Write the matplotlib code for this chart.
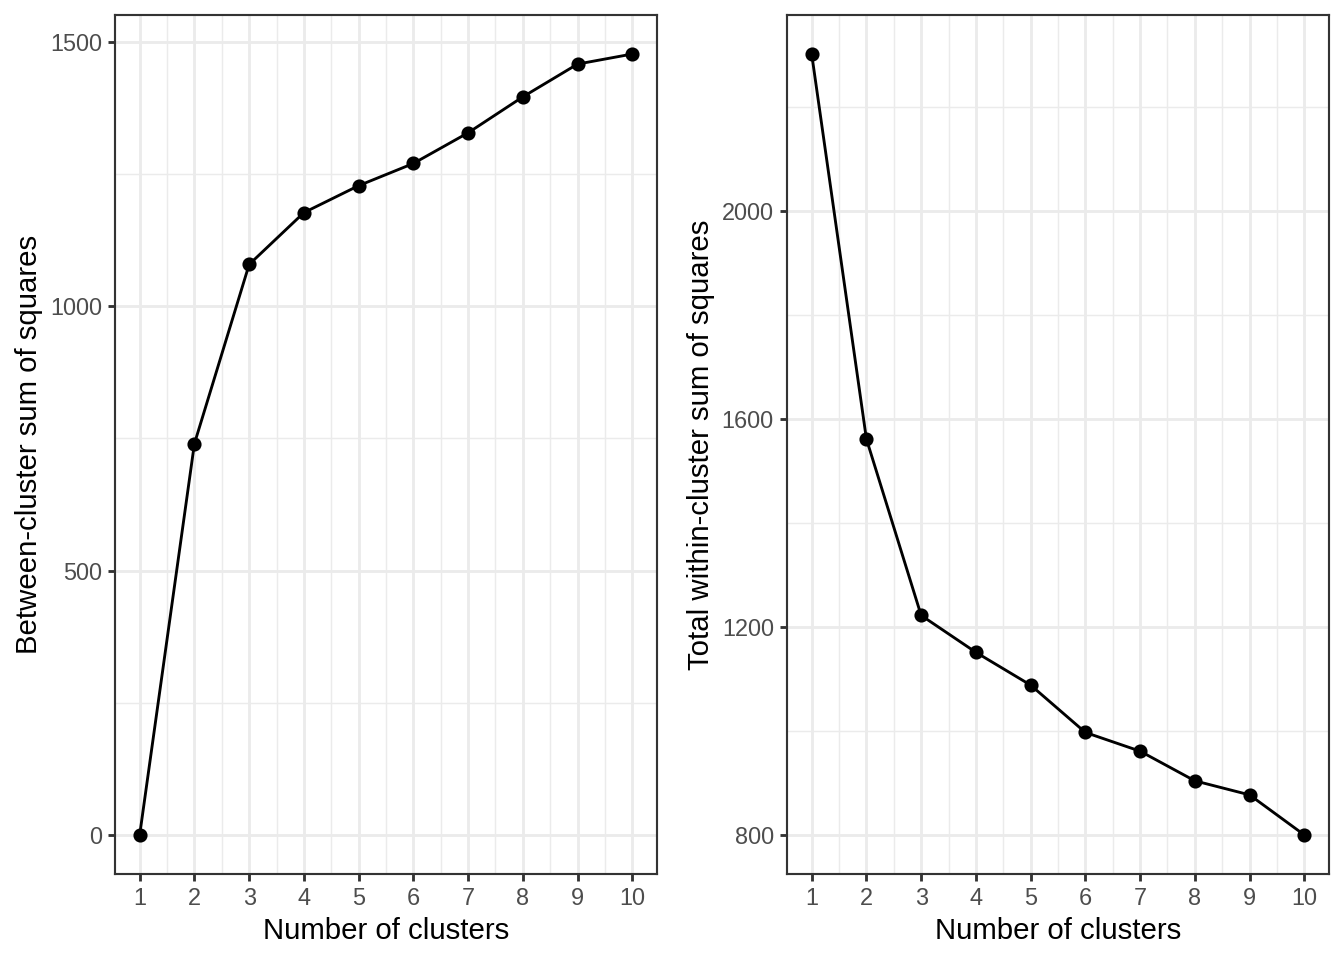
import matplotlib
matplotlib.use("Agg")
import matplotlib.pyplot as plt
from matplotlib.ticker import MultipleLocator, FixedLocator

# elbow data
clusters = [1, 2, 3, 4, 5, 6, 7, 8, 9, 10]
between_ss = [0, 740, 1079, 1177, 1228, 1270, 1328, 1396, 1458, 1477]
within_ss = [2301, 1561, 1222, 1151, 1088, 997, 961, 904, 877, 800]

plt.rcParams['font.family'] = ['Liberation Sans', 'DejaVu Sans']

fig = plt.figure(figsize=(7, 5), dpi=192)

grid_col = '#EBEBEB'
border_col = '#333333'
tick_col = '#4D4D4D'


def style_axis(ax, y, ylabel, major_y, minor_y):
    ax.plot(clusters, y, color='black', lw=1.07, zorder=3)
    ax.plot(clusters, y, 'o', color='black', ms=4.3, zorder=4)

    lo, hi = min(y), max(y)
    pad = (hi - lo) * 0.05
    ax.set_ylim(lo - pad, hi + pad)
    ax.set_xlim(1 - 0.45, 10 + 0.45)

    ax.xaxis.set_major_locator(FixedLocator(clusters))
    ax.xaxis.set_minor_locator(FixedLocator([c + 0.5 for c in clusters[:-1]]))
    ax.yaxis.set_major_locator(FixedLocator(major_y))
    ax.yaxis.set_minor_locator(FixedLocator(minor_y))

    ax.grid(which='major', color=grid_col, lw=1.07, zorder=0)
    ax.grid(which='minor', color=grid_col, lw=0.53, zorder=0)
    ax.set_axisbelow(True)

    for s in ax.spines.values():
        s.set_color(border_col)
        s.set_linewidth(0.8)

    ax.tick_params(which='major', length=2.75, width=1.07, color=border_col,
                   labelsize=8.8, labelcolor=tick_col, pad=2.2)
    ax.tick_params(which='minor', length=0)

    ax.set_xlabel('Number of clusters', fontsize=11, labelpad=2.5)
    ax.set_ylabel(ylabel, fontsize=11, labelpad=2.5)


ax1 = fig.add_axes([0.0856, 0.0896, 0.4032, 0.8948])
style_axis(ax1, between_ss, 'Between-cluster sum of squares',
           [0, 500, 1000, 1500], [250, 750, 1250])

ax2 = fig.add_axes([0.5856, 0.0896, 0.4032, 0.8948])
style_axis(ax2, within_ss, 'Total within-cluster sum of squares',
           [800, 1200, 1600, 2000], [1000, 1400, 1800, 2200])

fig.savefig('out.png', dpi=192)
